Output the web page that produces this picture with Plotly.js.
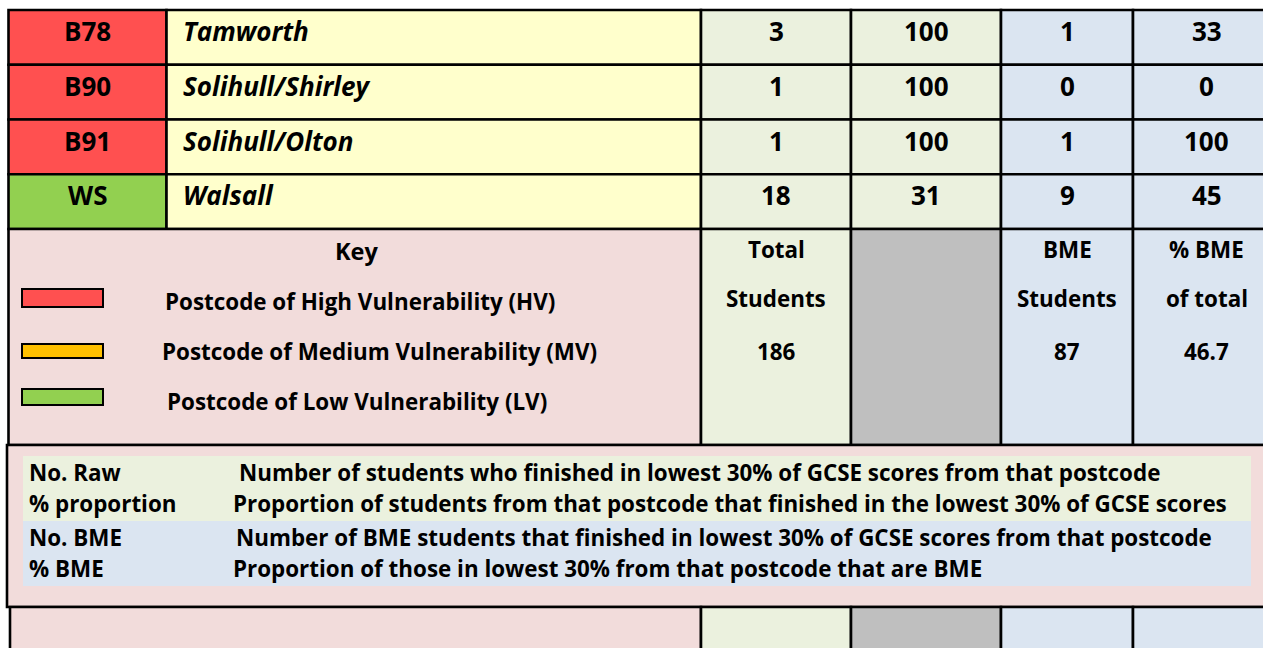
<!DOCTYPE html>
<html>
<head>
<meta charset="utf-8">
<script src="https://cdn.plot.ly/plotly-3.0.1.min.js"></script>
<style>html,body{margin:0;padding:0;background:#fff;}#chart{width:1263px;height:648px;}</style>
</head>
<body>
<div id="chart"></div>
<script>
// ---------- DATA ----------
const postcodes = ['B78', 'B90', 'B91', 'WS'];
const areas = ['Tamworth', 'Solihull/Shirley', 'Solihull/Olton', 'Walsall'];
const vulnerability = ['HV', 'HV', 'HV', 'LV'];
const noRaw = [3, 1, 1, 18];
const pctProportion = [100, 100, 100, 31];
const noBME = [1, 0, 1, 9];
const pctBME = [33, 0, 100, 45];

const keyTitle = 'Key';
const keyLevels = ['HV', 'MV', 'LV'];
const keyLabels = ['Postcode of High Vulnerability (HV)', 'Postcode of Medium Vulnerability (MV)', 'Postcode of Low Vulnerability (LV)'];

const totalHeaders = [['Total', 'Students'], null, ['BME', 'Students'], ['% BME', 'of total']];
const totalValues = [186, null, 87, 46.7];

const glossaryTerms = ['No. Raw', '% proportion', 'No. BME', '% BME'];
const glossaryText = [
  'Number of students who finished in lowest 30% of GCSE scores from that postcode',
  'Proportion of students from that postcode that finished in the lowest 30% of GCSE scores',
  'Number of BME students that finished in lowest 30% of GCSE scores from that postcode',
  'Proportion of those in lowest 30% from that postcode that are BME'
];

// ---------- STYLE / LAYOUT GEOMETRY ----------
const levelColor = {HV: '#FF5050', MV: '#FFC000', LV: '#92D050'};
const C = {yellow: '#FFFFCC', green: '#EBF1DE', blue: '#DBE5F1', pink: '#F2DCDB', grey: '#BFBFBF'};
const colEdges = [8.5, 166.5, 701, 851, 1001, 1133, 1280];
const numColFill = [C.green, C.green, C.blue, C.blue];
const keyColFill = [C.green, C.grey, C.blue, C.blue];
const tableTop = 10, rowH = 54.75;
const keyTop = tableTop + rowH * postcodes.length, keyBottom = 445;
const legTop = 445, legBottom = 607;
const FONT = '"Open Sans", sans-serif';
const BIG = 26, MID = 22.4;
const LW = 2.6;

const shapes = [];
const ann = [];
function rect(x0, x1, y0, y1, fill, lw) {
  shapes.push({type: 'rect', xref: 'x', yref: 'y', x0, x1, y0, y1, fillcolor: fill,
    line: {color: lw ? '#000' : 'rgba(0,0,0,0)', width: lw || 0}, layer: 'below'});
}
function text(x, y, t, size, anchor) {
  ann.push({xref: 'x', yref: 'y', x, y, text: t, showarrow: false, xanchor: anchor || 'center', yanchor: 'middle',
    font: {family: FONT, size, color: '#000'}});
}
const mid = i => (colEdges[i] + colEdges[i + 1]) / 2;

// data rows
postcodes.forEach((pc, r) => {
  const y0 = tableTop + r * rowH, y1 = y0 + rowH, ty = y0 + 21;
  rect(colEdges[0], colEdges[1], y0, y1, levelColor[vulnerability[r]], LW);
  rect(colEdges[1], colEdges[2], y0, y1, C.yellow, LW);
  const vals = [noRaw[r], pctProportion[r], noBME[r], pctBME[r]];
  vals.forEach((v, c) => rect(colEdges[c + 2], colEdges[c + 3], y0, y1, numColFill[c], LW));
  text(mid(0), ty, '<b>' + pc + '</b>', BIG);
  text(colEdges[1] + 14, ty, '<b><i>' + areas[r] + '</i></b>', BIG, 'left');
  vals.forEach((v, c) => text(mid(c + 2), ty, '<b>' + v + '</b>', BIG));
});

// key section
rect(colEdges[0], colEdges[2], keyTop, keyBottom, C.pink, LW);
keyColFill.forEach((f, c) => rect(colEdges[c + 2], colEdges[c + 3], keyTop, keyBottom, f, LW));
text(356, keyTop + 22, '<b>' + keyTitle + '</b>', 23.5);
const swatchY = [[289, 307], [344, 358], [389, 405]];
const keyTextY = [301, 351, 401];
const keyTextX = [163, 160, 165];
keyLevels.forEach((lv, i) => {
  rect(22, 103, swatchY[i][0], swatchY[i][1], levelColor[lv], 2);
  text(keyTextX[i], keyTextY[i], '<b>' + keyLabels[i] + '</b>', MID, 'left');
});
totalHeaders.forEach((h, c) => {
  if (!h) return;
  text(mid(c + 2), 249, '<b>' + h[0] + '</b>', MID);
  text(mid(c + 2), 298, '<b>' + h[1] + '</b>', MID);
  text(mid(c + 2), 351, '<b>' + totalValues[c] + '</b>', MID);
});

// glossary box
rect(7, 1290, legTop, legBottom, C.pink, LW);
rect(23, 1251, 456, 521, C.green, 0);
rect(23, 1251, 521, 586, C.blue, 0);
const gY = [472, 503, 537, 568];
const gX = [237, 231, 234, 231];
glossaryTerms.forEach((t, i) => {
  text(27, gY[i], '<b>' + t + '</b>', MID, 'left');
  text(gX[i], gY[i], '<b>' + glossaryText[i] + '</b>', MID, 'left');
});

// bottom partial row
rect(10, colEdges[2], legBottom, 670, C.pink, LW);
keyColFill.forEach((f, c) => rect(colEdges[c + 2], colEdges[c + 3], legBottom, 670, f, LW));

const layout = {
  width: 1263, height: 648,
  margin: {l: 0, r: 0, t: 0, b: 0, pad: 0},
  paper_bgcolor: '#fff', plot_bgcolor: '#fff',
  xaxis: {range: [0, 1263], visible: false, fixedrange: true},
  yaxis: {range: [648, 0], visible: false, fixedrange: true},
  showlegend: false,
  shapes, annotations: ann
};
Plotly.newPlot('chart', [{x: [], y: [], type: 'scatter', mode: 'markers', hoverinfo: 'skip'}], layout, {displayModeBar: false, staticPlot: true});
</script>
</body>
</html>
